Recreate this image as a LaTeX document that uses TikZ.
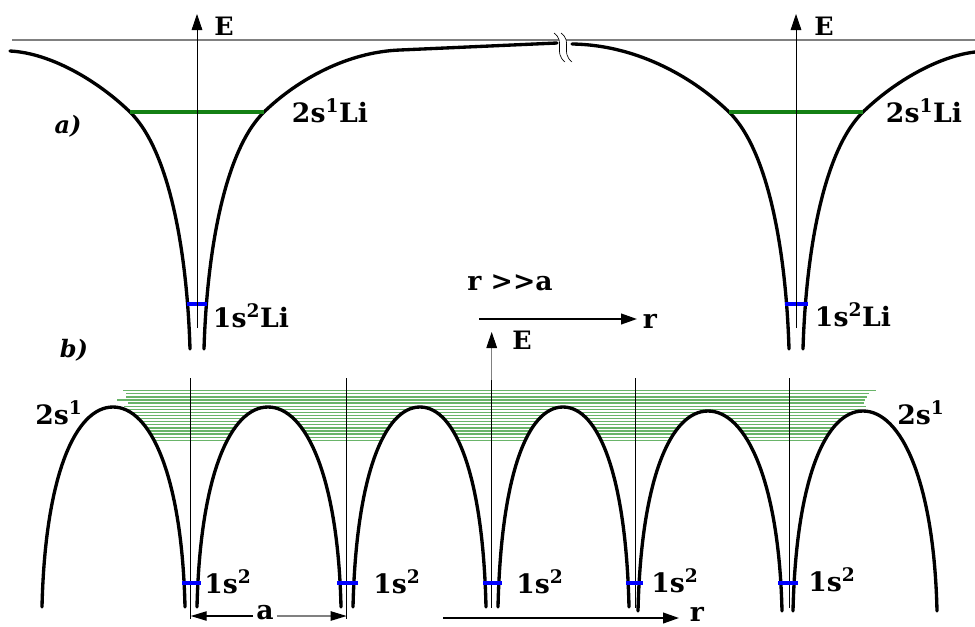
\documentclass[tikz,border=0pt]{standalone}
\usepackage{fontspec}
\setmainfont{DejaVu Serif}
\usetikzlibrary{arrows.meta}

\definecolor{levelgreen}{RGB}{20,128,20}
\definecolor{bandgreen}{RGB}{105,180,105}
\definecolor{coreblue}{RGB}{0,0,255}

\tikzset{every picture/.style={line width=0.75pt}}
\tikzset{
  curve/.style={line width=2.5pt, line join=round, line cap=round},
  axis/.style={line width=0.6pt},
  axisarrow/.style={line width=0.6pt, -{Triangle[length=12pt,width=8pt]}},
  level/.style={color=levelgreen, line width=2.4pt},
  band/.style={color=bandgreen, line width=1pt},
  core/.style={color=coreblue, line width=3.5pt},
  lbl/.style={font=\fontsize{20}{24}\selectfont\bfseries, inner sep=0pt},
  elbl/.style={font=\fontsize{19}{22}\selectfont\bfseries, inner sep=0pt},
  part/.style={font=\fontsize{18}{21}\selectfont\bfseries\itshape, inner sep=0pt}
}

\begin{document}
\begin{tikzpicture}[x=0.75pt,y=0.75pt,yscale=-1,xscale=1]
\useasboundingbox (0,0) rectangle (975,626);

%Straight Lines: zero level
\draw [color={rgb, 255:red, 128; green, 128; blue, 128 }, line width=1.1pt] (12,40) -- (975,40) ;

%Shape: Curve, left atom
\draw [curve] (10,51) .. controls (50,53) and (97,80) .. (130,112) .. controls (169,150) and (187,250) .. (190,349) ;
\draw [curve] (204,349) .. controls (207,250) and (225,150) .. (264,112) .. controls (297,80) and (347,52) .. (400,50) -- (557,43) ;
%Shape: Curve, right atom
\draw [curve] (572,44) .. controls (640,45) and (696,80) .. (729,112) .. controls (768,150) and (786,250) .. (789,349) ;
\draw [curve] (803,349) .. controls (806,250) and (824,150) .. (863,112) .. controls (896,80) and (940,56) .. (975,52) ;

%Shape: Break
\fill [white] (554,33) .. controls (566,42) and (553,52) .. (565,62) -- (572,62) .. controls (560,52) and (573,42) .. (561,33) -- cycle ;
\draw [line width=0.5pt] (554,33) .. controls (566,42) and (553,52) .. (565,62) ;
\draw [line width=0.5pt] (561,33) .. controls (573,42) and (560,52) .. (572,62) ;

%Straight Lines: levels of the single atoms
\draw [level] (130,112) -- (264,112) ;
\draw [level] (729,112) -- (863,112) ;
\draw [core] (187,304) -- (207,304) ;
\draw [core] (785,304) -- (808,304) ;

%Straight Lines: E axes
\coordinate (ea1) at (197,328) ;
\coordinate (et1) at (197,14) ;
\draw [axisarrow] (ea1) -- (et1) ;
\coordinate (ea2) at (796,328) ;
\coordinate (et2) at (796,14) ;
\draw [axisarrow] (ea2) -- (et2) ;

%Straight Lines: r arrow, upper
\coordinate (ra) at (479,319) ;
\coordinate (rb) at (637,319) ;
\draw [line width=1.5pt, -{Triangle[length=12pt,width=8pt]}] (ra) -- (rb) ;

%Straight Lines: band of the crystal
\draw [band] (123,390.7) -- (876,390.7) ;
\draw [band] (126,393.8) -- (869,393.8) ;
\draw [band] (126,396.9) -- (867,396.9) ;
\draw [band] (117,400.0) -- (865,400.0) ;
\draw [band] (128,403.1) -- (864,403.1) ;
\draw [band] (124,406.2) -- (866,406.2) ;
\draw [band] (124,409.3) -- (860,409.3) ;
\draw [band] (124,412.4) -- (866,412.4) ;
\draw [band] (124,415.5) -- (866,415.5) ;
\draw [band] (124,418.6) -- (866,418.6) ;
\draw [band] (124,421.7) -- (866,421.7) ;
\draw [band] (124,424.8) -- (866,424.8) ;
\draw [band] (124,427.9) -- (866,427.9) ;
\draw [band] (124,431.0) -- (866,431.0) ;
\draw [band] (124,434.1) -- (866,434.1) ;
\draw [band] (124,437.2) -- (866,437.2) ;
\draw [band] (124,440.3) -- (866,440.3) ;

%Shape: Curves, crystal potential
\filldraw [curve, fill=white] (42,607) .. controls (45,477) and (75,407) .. (113,407) .. controls (151,407) and (182,477) .. (185,607) ;
\filldraw [curve, fill=white] (197,607) .. controls (200,477) and (230,407) .. (268,407) .. controls (306,407) and (338,477) .. (341,607) ;
\filldraw [curve, fill=white] (353,607) .. controls (356,477) and (384,407) .. (420,407) .. controls (456,407) and (483,477) .. (486,607) ;
\filldraw [curve, fill=white] (498,607) .. controls (501,477) and (527,407) .. (563,407) .. controls (599,407) and (626,477) .. (629,607) ;
\filldraw [curve, fill=white] (638,611) .. controls (641,481) and (670,411) .. (708,411) .. controls (746,411) and (779,481) .. (782,611) ;
\filldraw [curve, fill=white] (793,611) .. controls (796,481) and (825,411) .. (863,411) .. controls (901,411) and (934,481) .. (937,611) ;

%Straight Lines: axes of the crystal
\draw [axis] (190.7,378) -- (190.7,619) ;
\draw [axis] (346.7,378) -- (346.7,619) ;
\draw [axis] (491.7,378) -- (491.7,608) ;
\draw [axis] (635,378) -- (635,608) ;
\draw [axis] (789,378) -- (789,608) ;
\coordinate (ea3) at (491.7,380) ;
\coordinate (et3) at (491.7,332) ;
\draw [axis, color=gray, -{Triangle[length=12pt,width=8pt,color=black]}] (ea3) -- (et3) ;

%Straight Lines: 1s levels of the crystal
\draw [core] (182,583) -- (201,583) ;
\draw [core] (337,583) -- (358,583) ;
\draw [core] (483,583) -- (502,583) ;
\draw [core] (626,583) -- (643,583) ;
\draw [core] (778,583) -- (798,583) ;

%Straight Lines: r arrow, lower
\coordinate (rc) at (443,618) ;
\coordinate (rd) at (679,618) ;
\draw [line width=1.5pt, -{Triangle[length=12pt,width=8pt]}] (rc) -- (rd) ;

% Text Node
\node [elbl] (e1) at (224,26) {E};
% Text Node
\node [elbl] (e2) at (824,26) {E};
% Text Node
\node [elbl] (e3) at (522,340) {E};
% Text Node
\node [part] (pa) at (68,126) {a)};
% Text Node
\node [part] (pb) at (74,350) {b)};
% Text Node
\node [lbl] (li2l) at (330,111) {2s\textsuperscript{1}Li};
% Text Node
\node [lbl] (li2r) at (924,111) {2s\textsuperscript{1}Li};
% Text Node
\node [lbl] (li1l) at (251,316) {1s\textsuperscript{2}Li};
% Text Node
\node [lbl] (li1r) at (853,315) {1s\textsuperscript{2}Li};
% Text Node
\node [lbl] (far) at (510,283) {r >\kern0pt>a};
% Text Node
\node [lbl] (r1) at (650,321) {r};
% Text Node
\node [lbl] (r2) at (697,614) {r};
% Text Node
\node [lbl] (s2l) at (59,413) {2s\textsuperscript{1}};
% Text Node
\node [lbl] (s2r) at (921,413) {2s\textsuperscript{1}};
% Text Node
\node [lbl] (s1a) at (228,582) {1s\textsuperscript{2}};
% Text Node
\node [lbl] (s1b) at (397,582) {1s\textsuperscript{2}};
% Text Node
\node [lbl] (s1c) at (540,582) {1s\textsuperscript{2}};
% Text Node
\node [lbl] (s1d) at (675,581) {1s\textsuperscript{2}};
% Text Node
\node [lbl] (s1e) at (832,580) {1s\textsuperscript{2}};

%Straight Lines: lattice constant
\node [lbl, fill=white, inner sep=2pt] (dist) at (265,613) {a};
\coordinate (dl) at (190.7,616) ;
\coordinate (dr) at (346.7,616) ;
\draw [line width=1pt, -{Triangle[length=12pt,width=7pt]}] (dist.west |- dl) -- (dl) ;
\draw [line width=1pt, color=gray, -{Triangle[length=12pt,width=7pt,color=black]}] (dist.east |- dr) -- (dr) ;

\end{tikzpicture}
\end{document}
